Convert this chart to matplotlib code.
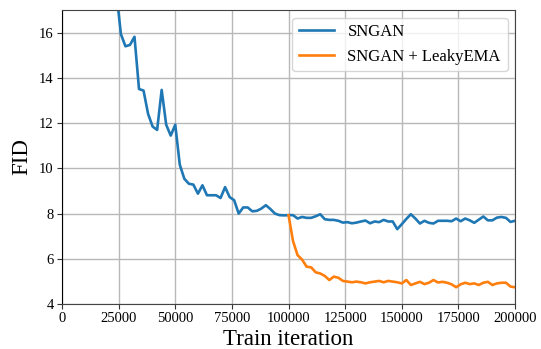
import numpy as np
import matplotlib
matplotlib.use("Agg")
import matplotlib.pyplot as plt

plt.rcParams['font.family'] = ['Liberation Serif', 'DejaVu Serif']

# Train iterations (every 2000 steps)
sngan_iters = np.arange(24000, 200001, 2000)
sngan_fid = [
    17.8, 15.94, 15.40, 15.46, 15.82, 13.51, 13.44, 12.41, 11.85, 11.70,
    13.47, 11.93, 11.45, 11.93, 10.16, 9.54, 9.32, 9.28, 8.88, 9.25,
    8.81, 8.81, 8.81, 8.69, 9.17, 8.73, 8.59, 8.00, 8.27, 8.27,
    8.10, 8.12, 8.22, 8.37, 8.20, 8.00, 7.93, 7.92, 7.93, 7.93,
    7.78, 7.85, 7.81, 7.81, 7.88, 7.97, 7.75, 7.72, 7.72, 7.68,
    7.60, 7.62, 7.57, 7.60, 7.65, 7.69, 7.57, 7.65, 7.62, 7.72,
    7.65, 7.65, 7.31, 7.53, 7.76, 7.97, 7.78, 7.56, 7.68, 7.59,
    7.56, 7.68, 7.68, 7.68, 7.66, 7.78, 7.66, 7.78, 7.70, 7.59,
    7.73, 7.87, 7.70, 7.70, 7.82, 7.85, 7.81, 7.63, 7.68,
]

leaky_iters = np.arange(100000, 200001, 2000)
leaky_fid = [
    7.93, 6.78, 6.16, 5.96, 5.65, 5.62, 5.40, 5.35, 5.24, 5.06,
    5.21, 5.16, 5.02, 4.99, 4.96, 4.99, 4.96, 4.91, 4.96, 4.99,
    5.02, 4.96, 5.02, 4.99, 4.96, 4.91, 5.06, 4.84, 4.91, 4.98,
    4.88, 4.94, 5.06, 4.95, 4.98, 4.94, 4.87, 4.74, 4.87, 4.94,
    4.88, 4.91, 4.84, 4.94, 4.98, 4.84, 4.91, 4.94, 4.94, 4.77,
    4.74,
]

fig = plt.figure(figsize=(5.41, 3.49), dpi=100)
ax = fig.add_axes([0.1146, 0.129, 0.8374, 0.842])

ax.plot(sngan_iters, sngan_fid, color='#1f77b4', linewidth=1.9, label='SNGAN')
ax.plot(leaky_iters, leaky_fid, color='#ff7f0e', linewidth=1.9, label='SNGAN + LeakyEMA')

ax.set_xlim(0, 200000)
ax.set_ylim(4, 17)
ax.set_xticks(np.arange(0, 200001, 25000))
ax.set_yticks(np.arange(4, 17, 2))
ax.grid(True, color='#b8b8b8', linewidth=1.0)
ax.set_axisbelow(True)

ax.tick_params(labelsize=10.5, length=3.5, width=0.8, color='#333333', pad=2.5)
ax.spines['left'].set_color('black')
for side in ['top', 'right', 'bottom']:
    ax.spines[side].set_color('#444444')

ax.set_xlabel('Train iteration', fontsize=16.5, labelpad=3)
ax.set_ylabel('FID', fontsize=16.5, labelpad=5)

leg = ax.legend(loc='upper right', fontsize=12, handlelength=2.1,
                borderaxespad=0.45, labelspacing=0.5)
leg.get_frame().set_edgecolor('#cccccc')

fig.savefig('out.png', dpi=100)
